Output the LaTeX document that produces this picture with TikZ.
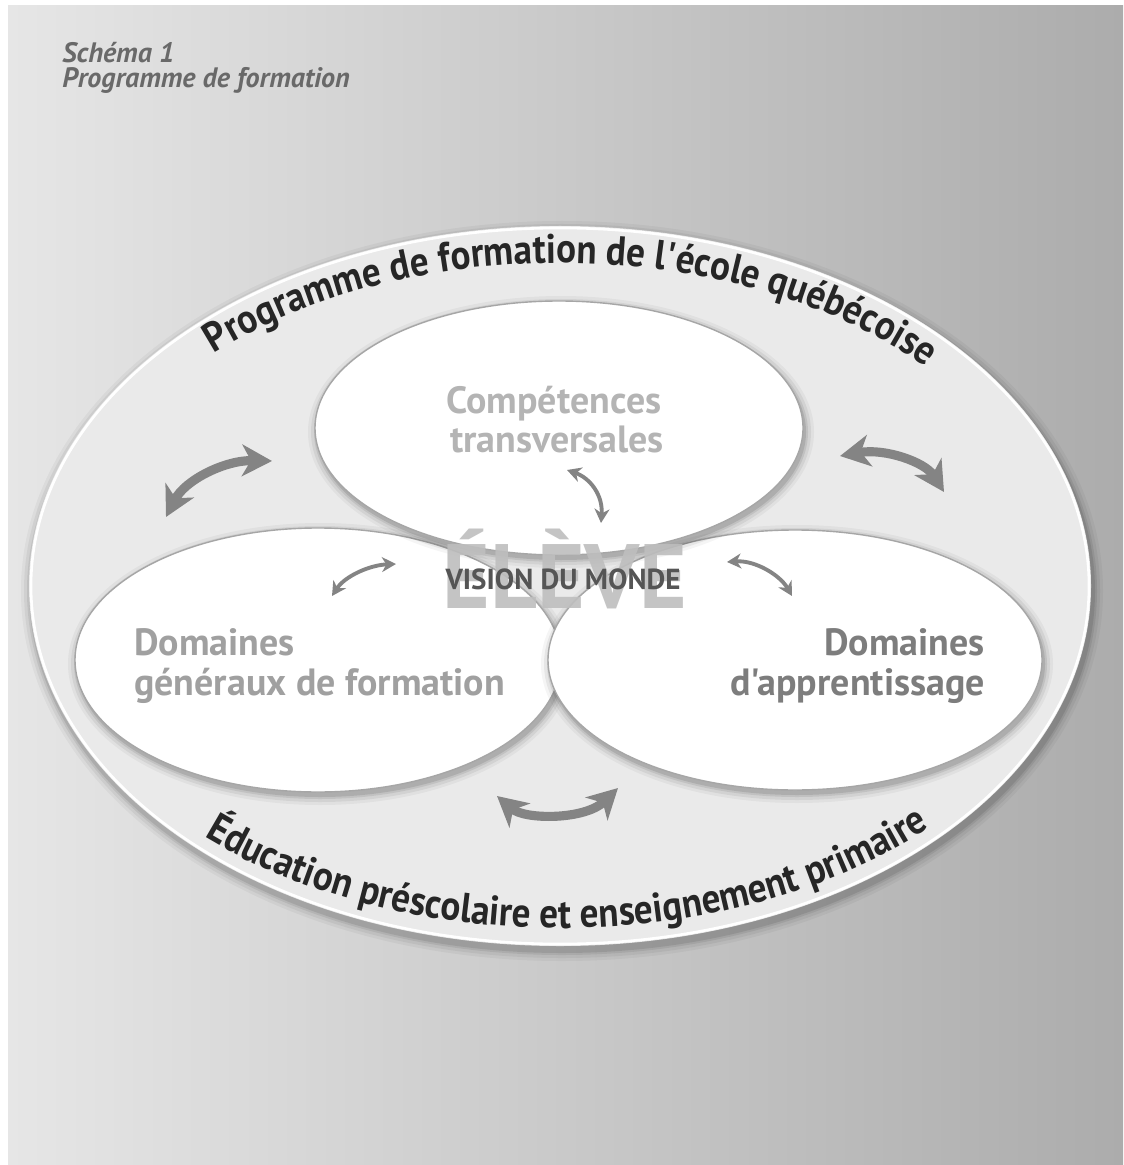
\documentclass[tikz,border=0pt]{standalone}
\usepackage{fontspec}
\setmainfont{PT Sans}[Ligatures=TeXOff]
\newfontfamily\condfont{PT Sans}[FakeStretch=0.9,Ligatures=TeXOff]
\usetikzlibrary{decorations.text,arrows.meta}
\definecolor{bgL}{RGB}{230,230,230}
\definecolor{bgR}{RGB}{172,172,172}
\definecolor{ovalfill}{RGB}{234,234,234}
\definecolor{titlegray}{RGB}{105,105,105}
\definecolor{arrowgray}{RGB}{132,132,132}
\definecolor{ctgray}{RGB}{180,180,180}
\definecolor{dgfgray}{RGB}{160,160,160}
\definecolor{dagray}{RGB}{125,125,125}
\definecolor{elevegray}{RGB}{190,190,190}
\definecolor{visiongray}{RGB}{85,85,85}
\tikzset{
  titletext/.style={inner sep=0pt, anchor=base west, text=titlegray, font=\fontsize{16}{18}\selectfont\bfseries\itshape},
  ovaltext/.style={inner sep=0pt, font=\fontsize{21.6}{24}\selectfont\bfseries},
  bigarrow/.style={draw=arrowgray, line width=5.2pt, line cap=butt,
    {Stealth[length=17pt,width=18pt,inset=5pt]}-{Stealth[length=17pt,width=18pt,inset=5pt]}},
  smallarrow/.style={draw=arrowgray, line width=2.2pt,
    {Stealth[length=8pt,width=8.5pt,inset=2.5pt]}-{Stealth[length=8pt,width=8.5pt,inset=2.5pt]}},
  innerrim/.style={draw=gray!70, line width=0.8pt}
}
\begin{document}
\begin{tikzpicture}[x=0.02cm,y=-0.02cm]
\useasboundingbox (0,0) rectangle (1123,1165);
\fill[white] (0,0) rectangle (1123,1165);
\shade[left color=bgL,right color=bgR] (8,6) rectangle (1123,1165);

% title
\node[titletext] (t1) at (62,63) {Schéma 1};
\node[titletext] (t2) at (62,88) {Programme de formation};

% outer ellipse with soft shadow
\foreach \d/\o in {10/0.04,7/0.05,4/0.07,2/0.09}
  \fill[black,opacity=\o] (562,591) ellipse[x radius=531+\d, y radius=360+\d];
\fill[ovalfill] (560,586) ellipse[x radius=531, y radius=360];
\draw[white, line width=1.5pt] (560,586) ellipse[x radius=529, y radius=358];

% arc texts
\path[decorate, decoration={text along path, text align=center,
  text={|\condfont\fontsize{23.5}{23.5}\selectfont\bfseries\color{black!85}|Programme de formation de l'école québécoise}}]
  ([shift={(560,586)}]202:499 and 323) arc[start angle=202, end angle=342, x radius=499, y radius=323];
\path[decorate, decoration={text along path, text align=center,
  text={|\condfont\fontsize{23.5}{23.5}\selectfont\bfseries\color{black!85}|Éducation préscolaire et enseignement primaire}}]
  ([shift={(560,586)}]158.7:523 and 342) arc[start angle=158.7, end angle=18.7, x radius=523, y radius=342];

% inner ellipses: left, right, top
\foreach \d/\o in {9/0.04,6/0.06,3/0.08,1/0.10}
  \fill[black,opacity=\o] (320,664) ellipse[x radius=243+\d, y radius=132+\d];
\fill[white] (318,660) ellipse[x radius=243, y radius=132];
\draw[innerrim] (318,660) ellipse[x radius=243, y radius=132];

\foreach \d/\o in {9/0.04,6/0.06,3/0.08,1/0.10}
  \fill[black,opacity=\o] (797,664) ellipse[x radius=247+\d, y radius=130+\d];
\fill[white] (795,660) ellipse[x radius=247, y radius=130];
\draw[innerrim] (795,660) ellipse[x radius=247, y radius=130];

\foreach \d/\o in {9/0.04,6/0.06,3/0.08,1/0.10}
  \fill[black,opacity=\o] (561,432) ellipse[x radius=244+\d, y radius=127+\d];
\fill[white] (559,428) ellipse[x radius=244, y radius=127];
\draw[innerrim] (559,428) ellipse[x radius=244, y radius=127];

% oval texts
\node[ovaltext, text=ctgray, anchor=base] (ct1) at (554,413) {Compétences};
\node[ovaltext, text=ctgray, anchor=base] (ct2) at (557,452) {transversales};
\node[ovaltext, text=dgfgray, anchor=base west] (dg1) at (134,655) {Domaines};
\node[ovaltext, text=dgfgray, anchor=base west] (dg2) at (134,695) {généraux de formation};
\node[ovaltext, text=dagray, anchor=base east] (da1) at (985,655) {Domaines};
\node[ovaltext, text=dagray, anchor=base east] (da2) at (985,695) {d'apprentissage};

% centre
\node[inner sep=0pt, anchor=base, text=elevegray, opacity=0.9,
  font=\fontsize{52}{52}\selectfont\bfseries] (eleve) at (565,608) {ÉLÈVE};
\node[inner sep=0pt, anchor=base, text=visiongray,
  font=\fontsize{16.5}{16.5}\selectfont\bfseries] (vision) at (563,589) {VISION DU MONDE};

% arrows
\coordinate (a1s) at (166,517); \coordinate (a1e) at (272,461);
\draw[bigarrow] (a1s) .. controls (185,480) and (225,460) .. (a1e);
\coordinate (a2s) at (840,456); \coordinate (a2e) at (944,492);
\draw[bigarrow] (a2s) .. controls (885,448) and (925,462) .. (a2e);
\coordinate (a3s) at (497,796); \coordinate (a3e) at (618,788);
\draw[bigarrow] (a3s) .. controls (525,820) and (585,820) .. (a3e);
\coordinate (a4s) at (567,470); \coordinate (a4e) at (601,523);
\draw[smallarrow] (a4s) .. controls (590,478) and (603,495) .. (a4e);
\coordinate (a5s) at (332,596); \coordinate (a5e) at (396,564);
\draw[smallarrow] (a5s) .. controls (345,576) and (370,565) .. (a5e);
\coordinate (a6s) at (727,562); \coordinate (a6e) at (792,596);
\draw[smallarrow] (a6s) .. controls (755,560) and (780,575) .. (a6e);
\end{tikzpicture}
\end{document}
